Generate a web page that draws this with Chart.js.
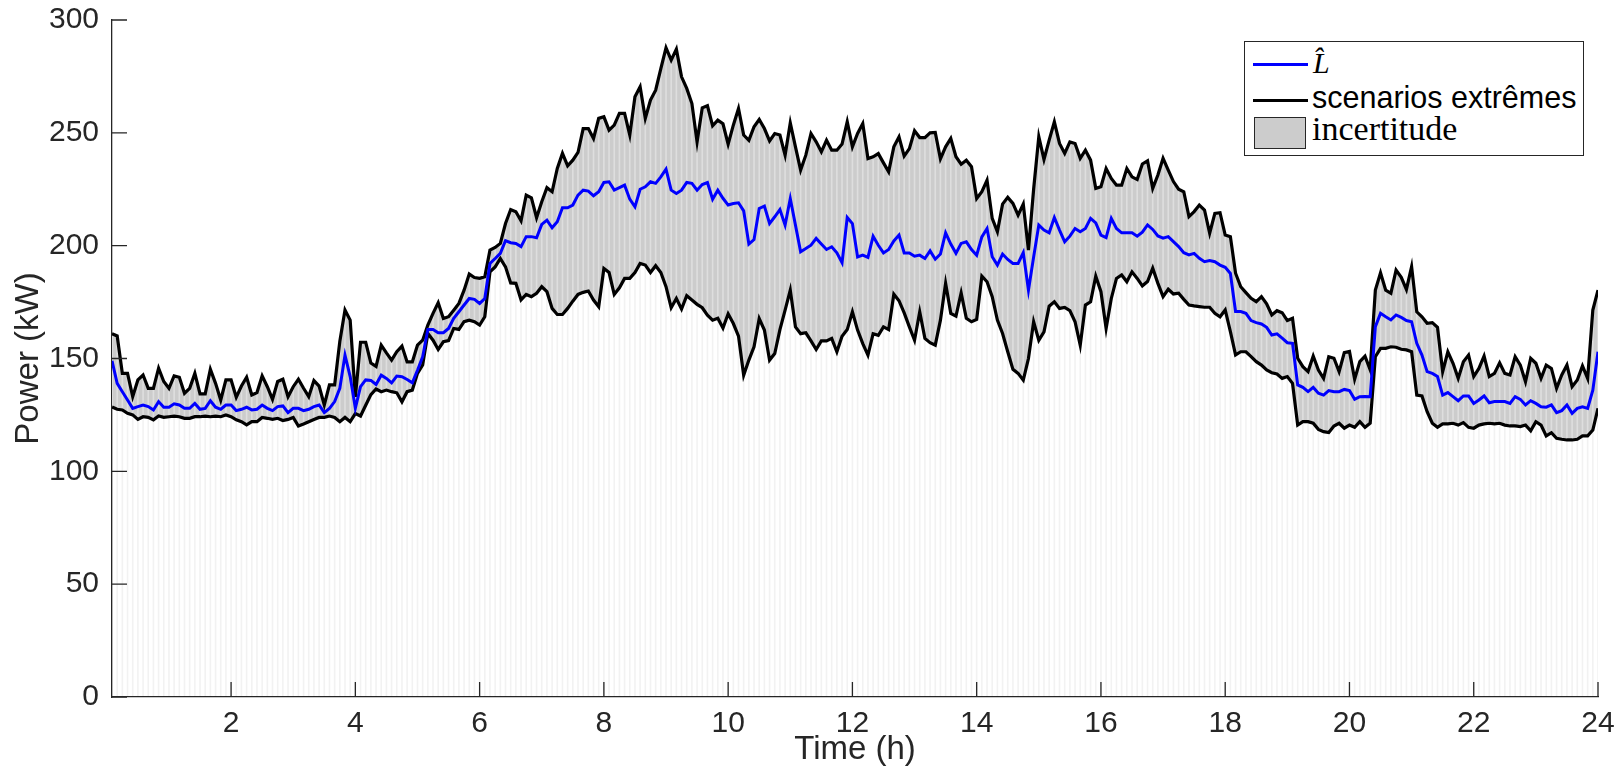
<!DOCTYPE html>
<html>
<head>
<meta charset="utf-8">
<script src="https://cdn.jsdelivr.net/npm/chart.js@4.4.1/dist/chart.umd.min.js"></script>
<style>
body{margin:0;background:#fff;}
#wrap{position:relative;width:1624px;height:774px;}
#graf{position:absolute;left:0;top:0;}
.leg{position:absolute;white-space:nowrap;color:#000;}
</style>
</head>
<body>
<div id="wrap">
  <canvas id="graf" width="1624" height="774"></canvas>
  <div class="leg" style="left:1244px;top:41px;width:340px;height:115px;box-sizing:border-box;border:1.5px solid #262626;background:#fff;"></div>
  <div class="leg" style="left:1253px;top:62.5px;width:55px;height:3px;background:#0000ff;"></div>
  <div class="leg" style="left:1313px;top:46px;font:italic 30px/34px 'Liberation Serif',serif;">L&#770;</div>
  <div class="leg" style="left:1253px;top:98.5px;width:55px;height:3px;background:#000;"></div>
  <div class="leg" style="left:1312px;top:79.6px;font:30.5px/34px 'Liberation Sans',Arial,sans-serif;">scenarios extrêmes</div>
  <div class="leg" style="left:1254px;top:117px;width:52px;height:32px;box-sizing:border-box;border:1.5px solid #262626;background:#cccccc;"></div>
  <div class="leg" style="left:1312px;top:110px;font:34px/37px 'Liberation Serif',serif;">incertitude</div>
</div>
<script>
// one sample every 5 minutes, values in kW
var stepMin = 5;
var xTicks = [2, 4, 6, 8, 10, 12, 14, 16, 18, 20, 22, 24];

var upper = [
  161, 160, 143.4, 143.4, 133.1, 140.5, 142.7, 136.8, 136.8, 145.7, 139.8, 136.8,
  142.3, 141.7, 134.6, 136.8, 143.4, 134.3, 134.3, 145.2, 139, 131.6, 140.5, 140.5,
  132.8, 137.8, 141.7, 133.8, 134.9, 142.3, 137.5, 131.9, 139.8, 140.8, 133.1, 137.5,
  140.8, 136.8, 133.1, 140.2, 137.8, 129.4, 138.3, 138.3, 157.5, 171.5, 167, 133,
  157.2, 157.2, 148, 146.5, 155.9, 152.5, 149.3, 153, 155.5, 148.5, 148.5, 155.9,
  158.1, 164.8, 170, 174.7, 167.7, 168.5, 171.4, 174.4, 180.3, 187.4, 185.9, 185.5,
  186.2, 198, 199.2, 201, 209.8, 216, 215, 211, 222.4, 221.2, 212.4, 219.5,
  225.7, 223.9, 234.2, 240.9, 235.4, 237.9, 241.3, 251.9, 251.9, 247.5, 256.4, 257.1,
  251.2, 253.4, 258.6, 258.6, 249, 266, 270.4, 256.4, 264.5, 268.9, 278.5, 287.7,
  282.2, 287.1, 274.8, 269.7, 263, 246, 261.1, 262, 253.1, 255.6, 254, 245,
  253.4, 260.8, 249, 246.7, 252.7, 255.9, 251.9, 246.4, 249.7, 249, 240.1, 254.4,
  243.8, 233.5, 240.1, 249.7, 246, 241.6, 246.7, 242.3, 242.3, 245, 254.9, 243.8,
  249.7, 254.1, 238.6, 239.4, 240.8, 236.7, 232.7, 243.8, 248.2, 239.7, 243, 250.9,
  247.9, 247.9, 250, 250.2, 238.5, 243.8, 247.5, 239.4, 236.1, 237.9, 235, 220.9,
  223.9, 229, 212.1, 206.2, 218.4, 221.4, 218.7, 213.5, 218.4, 198, 225, 248.3,
  238.2, 246.8, 254.9, 245.3, 240.9, 246, 245.3, 238.7, 242.3, 237.9, 225.4, 226.1,
  234.2, 229.8, 226.8, 226.8, 234.2, 230.5, 229.3, 236.2, 237.6, 225.4, 231.3, 238.7,
  233.5, 228.4, 225, 223.9, 212.9, 215.1, 218, 215.8, 205.5, 214.3, 214.6, 204.7,
  204, 187.8, 181.8, 179.2, 176.7, 175.2, 177.4, 174.2, 169.3, 171.2, 170.3, 166.8,
  167.8, 150.1, 146.4, 144.2, 151.1, 144.9, 141.2, 150.8, 150.1, 144.2, 152.6, 153.1,
  140.8, 148.6, 151, 145, 180.3, 188, 180.3, 178.9, 189.2, 186, 180.6, 190.7,
  170.7, 168.5, 165.6, 165.9, 163.8, 144.2, 153, 147.9, 141.2, 148.6, 151.5, 142,
  145.6, 151.1, 142, 143.4, 148.1, 143.4, 142.7, 150.8, 147.1, 139.7, 150.1, 147.9,
  141.2, 147.1, 145.6, 136.8, 142.7, 147.1, 137.5, 140.5, 146.7, 141.2, 171.5, 180.3
];

var lhat = [
  149, 139, 135.3, 131.6, 127.9, 128.7, 129.4, 128.7, 127.2, 130.9, 128.4, 128.4,
  129.9, 129.4, 127.9, 127.9, 130.1, 127.5, 127.9, 131.3, 128.4, 127.5, 129.4, 129.4,
  126.9, 127.5, 128.4, 127.2, 127.5, 129.4, 127.9, 126.9, 128.7, 129, 126, 127.9,
  127.9, 126.9, 127.5, 128.7, 129.4, 126, 127.9, 130.9, 136.8, 151.5, 142, 128,
  137.5, 140.5, 140.3, 138.5, 142.6, 141.2, 139.2, 142.2, 141.9, 140.7, 139.2, 144.8,
  150.8, 162.9, 162.9, 161.4, 161.4, 163.3, 167.8, 170.7, 173.7, 176.6, 176.2, 174.4,
  176.6, 192.1, 194.3, 196.6, 202.2, 201.3, 201, 199.6, 204, 204, 203.5, 209.4,
  211.3, 207.9, 210.6, 216.8, 216.8, 218, 222.4, 224.6, 224.2, 222.1, 223.9, 228,
  228.3, 224.6, 225.7, 226.8, 220.6, 217.2, 225, 226.1, 228.3, 227.6, 230.5, 233.9,
  224.6, 223.1, 224.6, 228, 227.6, 224.6, 227.1, 228, 220.6, 224.6, 221, 218,
  218.7, 219, 215.4, 200.7, 202.7, 216.5, 217.5, 209.8, 212.8, 216, 209.1, 220.9,
  209.1, 197.3, 198.7, 200.2, 203.2, 200.7, 198.3, 199.5, 196.8, 192.4, 212.5, 209.8,
  195, 195.8, 194.8, 204.2, 200.2, 196.8, 198.3, 202.1, 204.7, 196.8, 196.8, 195.3,
  195.8, 194.3, 197.7, 194, 196.3, 205.7, 200.7, 196.6, 201, 201.7, 198.3, 195.8,
  203.9, 207.6, 195.1, 191.4, 196.3, 193.9, 192.1, 192.1, 196.9, 180.3, 195, 209.1,
  206.9, 205.7, 212.5, 206.9, 201.7, 204.2, 207.6, 206.2, 207.6, 212.1, 210.1, 204.7,
  203.6, 212.1, 207.6, 205.7, 205.7, 205.7, 204.2, 206, 209.2, 207.2, 204.3, 203.3,
  204, 201.8, 199.6, 196.9, 195.9, 196.6, 194.4, 192.9, 193.4, 192.9, 191.4, 190.4,
  187.7, 170.8, 170.8, 170, 166.8, 165.9, 165.3, 163.8, 160.4, 160.9, 159, 157,
  156.7, 138.3, 137.2, 135.3, 137.2, 134.6, 133.8, 135.8, 135.3, 135.3, 136.3, 135.8,
  131.9, 133.1, 133.2, 133.1, 164.1, 170, 168.5, 167.1, 169.3, 168.2, 166.8, 166.3,
  156.7, 151.5, 144.2, 143.4, 142, 133.8, 134.9, 133.1, 131.3, 133.4, 133.4, 130.1,
  131.6, 133.4, 130.4, 130.9, 130.9, 130.9, 130.1, 133.1, 131.9, 129.4, 131.3, 130.1,
  128.6, 128.4, 129.4, 126, 126.9, 129.4, 125.7, 127.9, 128.6, 127.9, 136, 153
];

var lower = [
  128.5, 127.5, 127.2, 125.7, 125, 123, 124.2, 123.9, 122.8, 124.5, 123.9, 124.2,
  124.5, 124.2, 123.5, 123.5, 124.2, 124.2, 124.5, 124.2, 124.5, 124.2, 125, 124.2,
  122.8, 122, 120.6, 122, 122, 123.9, 123.5, 123, 123.5, 122.5, 123, 123.9,
  120.1, 121, 122, 123, 123.9, 123.9, 124.5, 123.9, 122, 123.9, 122, 125.6,
  124.5, 129.3, 134, 136.5, 135.3, 136, 135.3, 134.8, 130.8, 135.3, 136, 143.4,
  147.1, 161.1, 158.1, 154, 157.4, 157.9, 163.3, 162.9, 166.3, 167, 166.3, 164.8,
  168.5, 188.4, 190.6, 194.3, 190.6, 183.5, 183.3, 176, 178.4, 177.4, 178.9, 181.8,
  179.6, 172.2, 169.5, 169.5, 172.2, 175.4, 178.4, 179.3, 179.9, 175.9, 172.9, 189.9,
  188.1, 178.4, 181.3, 185.5, 185.5, 188.1, 192.1, 191.4, 188.1, 191.1, 188.1, 181.8,
  172.5, 176.6, 171.9, 177.8, 175.9, 174, 172.5, 169.2, 167, 167.8, 163.5, 169.8,
  165.5, 159.9, 142.6, 149.3, 155.2, 167.7, 162.6, 149.3, 152.2, 162.8, 171.4, 180.3,
  164, 161, 161.4, 157.8, 154, 157.8, 157.8, 158.9, 153, 159.9, 162.8, 170.7,
  162.6, 156.6, 151.5, 161, 160.3, 164, 162.8, 178.5, 175.6, 170.2, 164, 158.1,
  170.7, 158.9, 157, 155.9, 167, 183.3, 170, 168.8, 179.1, 167.8, 166.3, 167.3,
  186.5, 184, 177.4, 167, 161.1, 153, 145.2, 143.4, 140.4, 150, 166.3, 158.1,
  161.8, 173.2, 175.1, 172.2, 172.6, 171.2, 166.3, 155.9, 173.7, 175.1, 186.5, 179.6,
  163.3, 176.6, 185.5, 187, 184, 188.4, 185.5, 182.2, 184.1, 190, 183.3, 177.4,
  180.7, 178.6, 178.9, 176.2, 173.7, 173.3, 173, 172.7, 172.7, 170, 168.5, 171.5,
  161.9, 151.6, 153, 153, 150.8, 148.6, 147.1, 144.9, 143.7, 143.1, 141.2, 142,
  139, 120.5, 122, 122, 121.3, 118.6, 117.6, 117.2, 120.1, 121.3, 119.1, 120.5,
  119.5, 122, 119.5, 121.3, 150.8, 154.5, 154.5, 155.2, 155, 154.1, 153.8, 153,
  133.8, 133.4, 126.4, 121.3, 119.5, 121, 121, 121.3, 120.5, 121.6, 119.5, 119.1,
  120.5, 121, 121.3, 121, 121.3, 120.5, 120.1, 120.1, 119.8, 120.5, 118, 122,
  120.5, 115.7, 117.1, 114.6, 114.2, 113.9, 113.9, 114.2, 115.7, 115.7, 118.3, 127.9
];

var times = [];
for (var i = 1; i <= upper.length; i++) times.push(i * stepMin / 60);

function puntos(arr) {
    return arr.map(function (v, i) { return {x: times[i], y: v}; });
}
function tramos(a, b) {
    return a.map(function (v, i) { return {x: times[i], y: [v, b[i]]}; });
}
var piso = upper.map(function () { return 0; });

var fuente = '"Liberation Sans", Arial, Helvetica, sans-serif';
var gris = '#262626';
var tickLen = 15;

// matlab style ticks, pointing into the plot
var marcasTicks = {
    id: 'marcasTicks',
    afterDraw: function (chart) {
        var ctx = chart.ctx, a = chart.chartArea;
        var sx = chart.scales.x, sy = chart.scales.y;
        ctx.save();
        ctx.strokeStyle = gris;
        ctx.lineWidth = 1.3;
        ctx.beginPath();
        sy.ticks.forEach(function (t) {
            var y = sy.getPixelForValue(t.value);
            ctx.moveTo(a.left, y);
            ctx.lineTo(a.left + tickLen, y);
        });
        sx.ticks.forEach(function (t) {
            var x = sx.getPixelForValue(t.value);
            ctx.moveTo(x, a.bottom);
            ctx.lineTo(x, a.bottom - tickLen);
        });
        ctx.stroke();
        ctx.restore();
    }
};

var grafica = new Chart(document.getElementById('graf'), {
    type: 'line',
    data: {
        datasets: [
            {
                label: 'min',
                data: puntos(lower),
                borderColor: '#000000',
                borderWidth: 3.2,
                pointRadius: 0,
                tension: 0,
                fill: false,
                order: 2
            },
            {
                label: 'incertitude',
                data: puntos(upper),
                borderColor: '#000000',
                borderWidth: 3.2,
                pointRadius: 0,
                tension: 0,
                fill: 0,
                backgroundColor: '#cccccc',
                order: 3
            },
            {
                label: 'L',
                data: puntos(lhat),
                borderColor: '#0000ff',
                borderWidth: 3,
                pointRadius: 0,
                tension: 0,
                fill: false,
                order: 1
            },
            {
                type: 'bar',
                data: tramos(piso, lower),
                backgroundColor: 'rgba(0,0,0,0.05)',
                barThickness: 1,
                borderWidth: 0,
                grouped: false,
                order: 5
            },
            {
                type: 'bar',
                data: tramos(lower, upper),
                backgroundColor: 'rgba(255,255,255,0.35)',
                barThickness: 1,
                borderWidth: 0,
                grouped: false,
                order: 4
            }
        ]
    },
    options: {
        responsive: false,
        animation: false,
        events: [],
        devicePixelRatio: 1,
        layout: { padding: { left: 0, right: 26, top: 20, bottom: 0 } },
        plugins: {
            legend: { display: false },
            tooltip: { enabled: false },
            filler: { drawTime: 'beforeDatasetsDraw' }
        },
        scales: {
            x: {
                type: 'linear',
                min: times[0],
                max: 24,
                offset: false,
                afterBuildTicks: function (s) {
                    s.ticks = xTicks.map(function (v) { return {value: v}; });
                },
                afterFit: function (s) { s.height = 77; s.paddingLeft = 0; s.paddingRight = 0; },
                grid: { display: true, drawOnChartArea: false, drawTicks: false },
                border: { display: true, color: gris, width: 1.3 },
                ticks: { color: gris, font: { family: fuente, size: 30 }, padding: 9, maxRotation: 0, autoSkip: false },
                title: { display: true, text: 'Time (h)', color: gris, font: { family: fuente, size: 33 }, padding: { top: 0, bottom: 4 } }
            },
            y: {
                min: 0,
                max: 300,
                afterFit: function (s) { s.width = 112; s.paddingTop = 0; s.paddingBottom = 0; },
                grid: { display: true, drawOnChartArea: false, drawTicks: false },
                border: { display: true, color: gris, width: 1.3 },
                ticks: { stepSize: 50, color: gris, font: { family: fuente, size: 30 }, padding: 13 },
                title: { display: true, text: 'Power (kW)', color: gris, font: { family: fuente, size: 33 }, padding: { top: 9, bottom: 0 } }
            }
        }
    },
    plugins: [marcasTicks]
});
</script>
</body>
</html>
